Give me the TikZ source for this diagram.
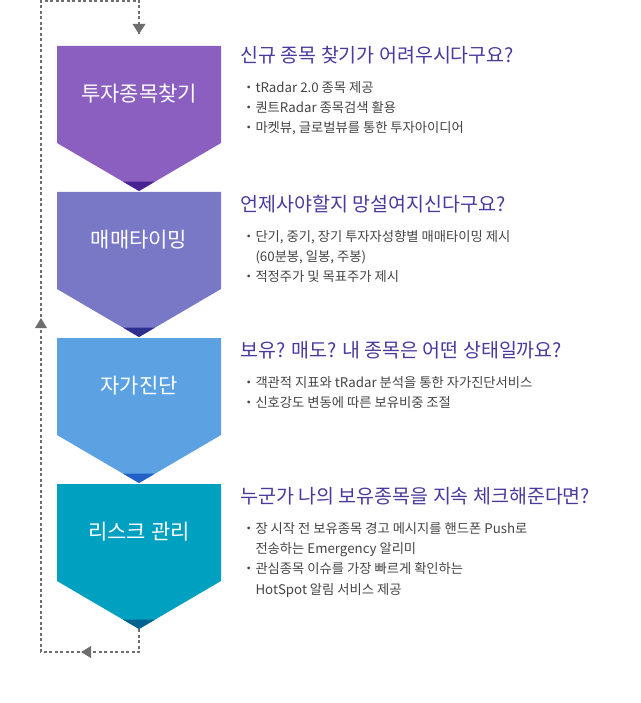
\documentclass[tikz,border=0pt]{standalone}
\usepackage{fontspec}
\setmainfont{Noto Sans CJK KR}
\usetikzlibrary{arrows.meta}
\definecolor{hd}{HTML}{4A3A9E}
\definecolor{tx}{HTML}{444444}
\definecolor{lp}{HTML}{6E6E6E}
\definecolor{fa}{HTML}{8B5FBF}\definecolor{ta}{HTML}{4A2392}
\definecolor{fb}{HTML}{7878C6}\definecolor{tb}{HTML}{2E2E8E}
\definecolor{fc}{HTML}{5CA2E2}\definecolor{tc}{HTML}{2262C8}
\definecolor{fd}{HTML}{00A0C1}\definecolor{td}{HTML}{00628E}
\tikzset{
 head/.style={anchor=west,text=hd,font=\fontsize{19.5}{22}\selectfont},
 body/.style={anchor=north west,text=tx,font=\fontsize{13.3}{20.3}\selectfont,align=left,inner sep=0pt},
 lbl/.style={text=white,font=\fontsize{21}{24}\selectfont},
 loop/.style={draw=lp,line width=1.3pt,dash pattern=on 3pt off 2.5pt}
}
\newcommand{\chev}[4]{% top, fill, tip colour, name
 \fill[#2] (57,#1) -- (221,#1) -- (221,#1+97) -- (139,#1+145) -- (57,#1+97) -- cycle;
 \fill[#3] (123,#1+135.6) -- (155,#1+135.6) -- (139,#1+145) -- cycle;
 \coordinate (#4t) at (139,#1); \coordinate (#4b) at (139,#1+145);
}
\begin{document}
\begin{tikzpicture}[x=1pt,y=-1pt]
\useasboundingbox (0,0) rectangle (640,703);
\chev{46}{fa}{ta}{a}
\chev{192}{fb}{tb}{b}
\chev{338}{fc}{tc}{c}
\chev{484}{fd}{td}{d}
\node[lbl] (la) at (139,94) {투자종목찾기};
\node[lbl] (lb) at (139,240) {매매타이밍};
\node[lbl] (lc) at (139,386) {자가진단};
\node[lbl] (ld) at (139,532) {리스크 관리};
\coordinate (p1) at (139,652); \coordinate (p2) at (41,652);
\coordinate (p3) at (41,1); \coordinate (p4) at (139,1); \coordinate (p5) at (139,34);
\draw[loop] (db) -- (p1) -- (p2) -- (p3) -- (p4) -- (p5);
\fill[lp] (p5) ++(-6.5,-10) -- ++(13,0) -- (p5) -- cycle;
\fill[lp] (41,318) -- (35,328) -- (47,328) -- cycle;
\fill[lp] (81,652) -- (91,646) -- (91,658) -- cycle;
\node[head] (ha) at (237,55) {신규 종목 찾기가 어려우시다구요?};
\node[body] (ba) at (242,81) {・tRadar 2.0 종목 제공\\・퀀트Radar 종목검색 활용\\・마켓뷰, 글로벌뷰를 통한 투자아이디어};
\node[head] (hb) at (237,204) {언제사야할지 망설여지신다구요?};
\node[body] (bb) at (242,230) {・단기, 중기, 장기 투자자성향별 매매타이밍 제시\\\phantom{・}(60분봉, 일봉, 주봉)\\・적정주가 및 목표주가 제시};
\node[head] (hc) at (237,350) {보유? 매도? 내 종목은 어떤 상태일까요?};
\node[body] (bc) at (242,376) {・객관적 지표와 tRadar 분석을 통한 자가진단서비스\\・신호강도 변동에 따른 보유비중 조절};
\node[head] (hd) at (237,496) {누군가 나의 보유종목을 지속 체크해준다면?};
\node[body] (bd) at (242,522) {・장 시작 전 보유종목 경고 메시지를 핸드폰 Push로\\\phantom{・}전송하는 Emergency 알리미\\・관심종목 이슈를 가장 빠르게 확인하는\\\phantom{・}HotSpot 알림 서비스 제공};
\end{tikzpicture}
\end{document}
